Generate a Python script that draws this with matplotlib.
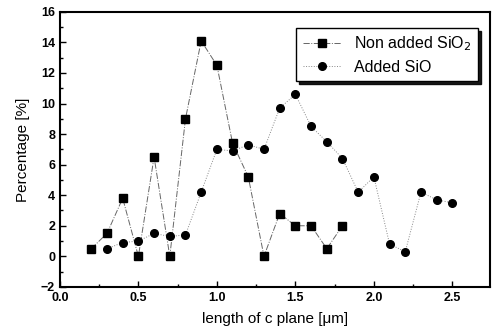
import numpy as np
import matplotlib.pyplot as plt

plt.rcParams['font.family'] = ['Liberation Sans', 'DejaVu Sans']

# Non added SiO2 (squares)
x_non = [0.2, 0.3, 0.4, 0.5, 0.6, 0.7, 0.8, 0.9, 1.0, 1.1, 1.2, 1.3, 1.4, 1.5, 1.6, 1.7, 1.8]
y_non = [0.5, 1.5, 3.8, 0.0, 6.5, 0.0, 9.0, 14.1, 12.5, 7.4, 5.2, 0.0, 2.8, 2.0, 2.0, 0.5, 2.0]

# Added SiO (circles)
x_add = [0.3, 0.4, 0.5, 0.6, 0.7, 0.8, 0.9, 1.0, 1.1, 1.2, 1.3, 1.4, 1.5, 1.6, 1.7, 1.8,
         1.9, 2.0, 2.1, 2.2, 2.3, 2.4, 2.5]
y_add = [0.5, 0.9, 1.0, 1.5, 1.3, 1.4, 4.2, 7.0, 6.9, 7.3, 7.0, 9.7, 10.6, 8.5, 7.5, 6.4,
         4.2, 5.2, 0.8, 0.3, 4.2, 3.7, 3.5]

fig = plt.figure(figsize=(4.95, 3.29), dpi=100)
ax = fig.add_axes([0.121, 0.128, 0.869, 0.836])

ax.plot(x_non, y_non, color='#666666', linestyle='-.', lw=0.7,
        marker='s', markersize=6, markerfacecolor='black', markeredgecolor='black',
        label='Non added SiO$_2$')
ax.plot(x_add, y_add, color='#888888', linestyle=':', lw=0.7,
        marker='o', markersize=5.5, markerfacecolor='black', markeredgecolor='black',
        label='Added SiO')

ax.set_xlim(0, 2.74)
ax.set_ylim(-2, 16)
ax.set_xticks([0.0, 0.5, 1.0, 1.5, 2.0, 2.5])
ax.set_xticks(np.arange(0.25, 2.75, 0.5), minor=True)
ax.set_yticks(range(-2, 17, 2))
ax.set_yticks(range(-1, 16, 2), minor=True)
ax.tick_params(which='both', direction='in', labelsize=9, width=1)
ax.tick_params(which='major', length=4)
ax.tick_params(which='minor', length=2)
for lab in ax.get_xticklabels() + ax.get_yticklabels():
    lab.set_fontweight('bold')
for s in ax.spines.values():
    s.set_linewidth(1.5)

ax.set_xlabel('length of c plane [\u03bcm]', fontsize=11, labelpad=6)
ax.set_ylabel('Percentage [%]', fontsize=11, labelpad=8)

leg = ax.legend(loc='upper right', fontsize=11.5, frameon=True, fancybox=False,
                shadow={'color': 'black', 'alpha': 0.9}, borderpad=0.4,
                handlelength=2.4, labelspacing=0.4,
                bbox_to_anchor=(0.99, 0.97))
leg.get_frame().set_edgecolor('black')
leg.get_frame().set_linewidth(1.0)

fig.savefig('out.png', dpi=100)
